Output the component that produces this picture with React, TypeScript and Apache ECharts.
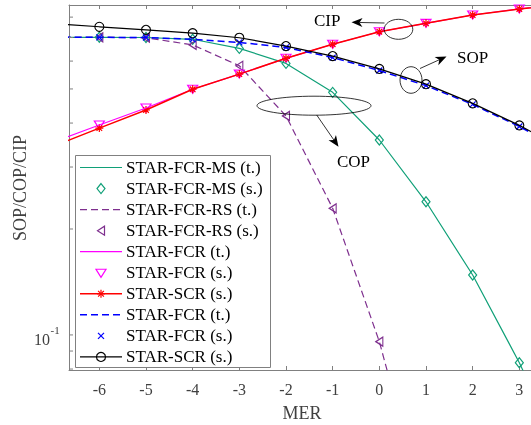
import React, { useEffect, useRef } from "react";
import * as echarts from "echarts";

// ---- data ----
const merTheory = [-7, -6, -5, -4, -3, -2, -1, 0, 1, 2, 3, 4];
const merSim = [-6, -5, -4, -3, -2, -1, 0, 1, 2, 3];

const fcrMsTheory = [0.701, 0.701, 0.7, 0.692, 0.652, 0.591, 0.489, 0.358, 0.239, 0.148, 0.0834, 0.0433];
const fcrMsSim = [0.701, 0.7, 0.692, 0.652, 0.591, 0.489, 0.358, 0.239, 0.148, 0.0834];
const fcrRsTheory = [0.701, 0.701, 0.699, 0.667, 0.582, 0.419, 0.229, 0.0957, 0.031];
const fcrRsSim = [0.701, 0.699, 0.667, 0.582, 0.419, 0.229, 0.0957];
const fcrCipTheory = [0.353, 0.395, 0.4415, 0.499, 0.551, 0.611, 0.67, 0.727, 0.768, 0.811, 0.844, 0.872];
const fcrCipSim = [0.395, 0.4415, 0.499, 0.551, 0.611, 0.67, 0.727, 0.768, 0.811, 0.844];
const scrCipLine = [0.343, 0.387, 0.4357, 0.499, 0.551, 0.611, 0.67, 0.727, 0.768, 0.811, 0.844, 0.872];
const scrCipSim = [0.387, 0.4357, 0.499, 0.551, 0.611, 0.67, 0.727, 0.768, 0.811, 0.844];
const fcrSopTheory = [0.701, 0.701, 0.7, 0.692, 0.678, 0.656, 0.614, 0.564, 0.511, 0.452, 0.391, 0.333];
const fcrSopSim = [0.701, 0.7, 0.692, 0.678, 0.656, 0.614, 0.564, 0.511, 0.452, 0.391];
const scrSopLine = [0.767, 0.751, 0.736, 0.72, 0.699, 0.662, 0.62, 0.57, 0.516, 0.455, 0.394, 0.335];
const scrSopSim = [0.751, 0.736, 0.72, 0.699, 0.662, 0.62, 0.57, 0.516, 0.455, 0.394];

const yTickValues = [0.08, 0.09, 0.1, 0.2, 0.3, 0.4, 0.5, 0.6, 0.7, 0.8];
const legendNames = [
  "STAR-FCR-MS (t.)",
  "STAR-FCR-MS (s.)",
  "STAR-FCR-RS (t.)",
  "STAR-FCR-RS (s.)",
  "STAR-FCR (t.)",
  "STAR-FCR (s.)",
  "STAR-SCR (s.)",
  "STAR-FCR (t.)",
  "STAR-FCR (s.)",
  "STAR-SCR (s.)",
];

const zip = (xs: number[], ys: number[]) => ys.map((y, i) => [xs[i], y]);

const GREEN = "#10a078";
const PURPLE = "#7e2f8e";
const MAGENTA = "#ff00ff";
const RED = "#ff0000";
const BLUE = "#0000ff";
const BLACK = "#000000";
const FONT = '"Liberation Serif", "Times New Roman", serif';
const AXIS_GREY = "#808080";
const LABEL_GREY = "#404040";

const ASTERISK = "path://M5,0L5,10M0,5L10,5M1.5,1.5L8.5,8.5M8.5,1.5L1.5,8.5";
const XMARK = "path://M0,0L10,10M10,0L0,10";

function arrow(x1: number, y1: number, x2: number, y2: number, L = 11, W = 4.5, N = 3) {
  const dx = x2 - x1, dy = y2 - y1;
  const len = Math.hypot(dx, dy);
  const ux = dx / len, uy = dy / len;
  const nx = -uy, ny = ux;
  const bx = x2 - L * ux, by = y2 - L * uy;
  const mx = x2 - (L - N) * ux, my = y2 - (L - N) * uy;
  return [
    { type: "line", z: 100, shape: { x1, y1, x2: mx, y2: my }, style: { stroke: "#000", lineWidth: 0.8 } },
    {
      type: "polygon",
      z: 100,
      shape: { points: [[x2, y2], [bx + W * nx, by + W * ny], [mx, my], [bx - W * nx, by - W * ny]] },
      style: { fill: "#000" },
    },
  ];
}

function legendMarker(kind: string, cx: number, cy: number, color: string): any[] {
  const st = { stroke: color, fill: "none", lineWidth: 1.2 };
  switch (kind) {
    case "diamond":
      return [{ type: "polygon", z: 101, shape: { points: [[cx, cy - 5], [cx + 4, cy], [cx, cy + 5], [cx - 4, cy]] }, style: st }];
    case "ltri":
      return [{ type: "polygon", z: 101, shape: { points: [[cx - 3.5, cy], [cx + 3.5, cy - 4.5], [cx + 3.5, cy + 4.5]] }, style: st }];
    case "dtri":
      return [{ type: "polygon", z: 101, shape: { points: [[cx - 5, cy - 3.5], [cx + 5, cy - 3.5], [cx, cy + 4.5]] }, style: st }];
    case "ast": {
      const r = 4;
      const d = 2.9;
      return [
        { type: "line", z: 101, shape: { x1: cx - r, y1: cy, x2: cx + r, y2: cy }, style: st },
        { type: "line", z: 101, shape: { x1: cx, y1: cy - r, x2: cx, y2: cy + r }, style: st },
        { type: "line", z: 101, shape: { x1: cx - d, y1: cy - d, x2: cx + d, y2: cy + d }, style: st },
        { type: "line", z: 101, shape: { x1: cx - d, y1: cy + d, x2: cx + d, y2: cy - d }, style: st },
      ];
    }
    case "x": {
      const d = 3;
      return [
        { type: "line", z: 101, shape: { x1: cx - d, y1: cy - d, x2: cx + d, y2: cy + d }, style: st },
        { type: "line", z: 101, shape: { x1: cx - d, y1: cy + d, x2: cx + d, y2: cy - d }, style: st },
      ];
    }
    case "circle":
      return [{ type: "circle", z: 101, shape: { cx, cy, r: 4.5 }, style: st }];
  }
  return [];
}

const legendStyles = [
  { line: "solid", color: GREEN, marker: "" },
  { line: "", color: GREEN, marker: "diamond" },
  { line: "dashed", color: PURPLE, marker: "" },
  { line: "", color: PURPLE, marker: "ltri" },
  { line: "solid", color: MAGENTA, marker: "" },
  { line: "", color: MAGENTA, marker: "dtri" },
  { line: "solid", color: RED, marker: "ast" },
  { line: "dashed", color: BLUE, marker: "" },
  { line: "", color: BLUE, marker: "x" },
  { line: "solid", color: BLACK, marker: "circle" },
];

export default function App() {
  const ref = useRef<HTMLDivElement>(null);
  useEffect(() => {
    const chart = echarts.init(ref.current!, null, { renderer: "svg" });
    const xMin = -6.65, xMax = 3.25, yMin = 0.0795, yMax = 0.866;
    const xAxisCommon: any = {
      type: "value",
      min: xMin,
      max: xMax,
      splitNumber: 10,
      splitLine: { show: false },
      axisLine: { show: true, onZero: false, lineStyle: { color: AXIS_GREY, width: 1 } },
      axisTick: { show: true, inside: true, length: 4, lineStyle: { color: AXIS_GREY } },
    };
    const lineS = (name: string, xs: number[], ys: number[], color: string, width: number, type: any) => ({
      type: "line",
      name,
      data: zip(xs, ys),
      symbol: "none",
      showSymbol: false,
      clip: true,
      silent: true,
      lineStyle: { color, width, type },
    });
    const markS = (name: string, xs: number[], ys: number[], symbol: string, size: any, color: string, rotate = 0, bw = 1.2) => ({
      type: "scatter",
      name,
      data: zip(xs, ys),
      symbol,
      symbolSize: size,
      symbolRotate: rotate,
      silent: true,
      itemStyle: { color: "rgba(0,0,0,0)", borderColor: color, borderWidth: bw, opacity: 1 },
    });
    const option: any = {
      animation: false,
      grid: { left: 69, top: 5, right: 0, bottom: 55, containLabel: false, outerBoundsMode: "none" },
      xAxis: [
        {
          ...xAxisCommon,
          position: "bottom",
          axisLabel: {
            show: true,
            color: LABEL_GREY,
            fontFamily: FONT,
            fontSize: 16,
            margin: 11,
            formatter: (v: number) => (Math.abs(v - Math.round(v)) < 1e-6 ? String(Math.round(v) === 0 ? 0 : Math.round(v)) : ""),
          },
        },
        { ...xAxisCommon, position: "top", axisLabel: { show: false } },
      ],
      yAxis: {
        type: "log",
        logBase: 10,
        min: yMin,
        max: yMax,
        position: "left",
        axisLine: { show: true, onZero: false, lineStyle: { color: AXIS_GREY, width: 1 } },
        axisTick: { show: false },
        axisLabel: { show: false },
        splitLine: { show: false },
        minorTick: { show: false },
        minorSplitLine: { show: false },
      },
      series: [
        lineS(legendNames[0], merTheory, fcrMsTheory, GREEN, 1.2, "solid"),
        markS(legendNames[1], merSim, fcrMsSim, "diamond", [8, 10], GREEN),
        lineS(legendNames[2], merTheory, fcrRsTheory, PURPLE, 1.2, [7, 4]),
        markS(legendNames[3], merSim, fcrRsSim, "triangle", [9, 7], PURPLE, 90),
        lineS(legendNames[4], merTheory, fcrCipTheory, MAGENTA, 1.2, "solid"),
        markS(legendNames[5], merSim, fcrCipSim, "triangle", [10, 8], MAGENTA, 180),
        lineS(legendNames[6], merTheory, scrCipLine, RED, 1.5, "solid"),
        markS(legendNames[6] + " marker", merSim, scrCipSim, ASTERISK, 8, RED, 0, 1.2),
        lineS(legendNames[7], merTheory, fcrSopTheory, BLUE, 1.5, [7, 4]),
        markS(legendNames[8], merSim, fcrSopSim, XMARK, 6, BLUE, 0, 1.2),
        lineS(legendNames[9], merTheory, scrSopLine, BLACK, 1.2, "solid"),
        markS(legendNames[9] + " marker", merSim, scrSopSim, "circle", 9, BLACK, 0, 1.1),
      ],
    };
    chart.setOption(option);

    const graphics: any[] = [];
    // y-axis ticks (log minor ticks) through the chart's own scale
    const left = 69;
    yTickValues.forEach((v) => {
      const y = chart.convertToPixel({ yAxisIndex: 0 }, v) as number;
      graphics.push({
        type: "line",
        z: 50,
        shape: { x1: left, y1: y, x2: left + 4, y2: y },
        style: { stroke: AXIS_GREY, lineWidth: 1 },
      });
      if (v === 0.1) {
        graphics.push({
          type: "text",
          z: 50,
          x: 50,
          y: y + 5,
          style: { text: "10", font: `16px ${FONT}`, fill: LABEL_GREY, align: "right", verticalAlign: "middle" },
        });
        graphics.push({
          type: "text",
          z: 50,
          x: 50.5,
          y: y - 5,
          style: { text: "-1", font: `11px ${FONT}`, fill: LABEL_GREY, align: "left", verticalAlign: "middle" },
        });
      }
    });
    // axis titles
    graphics.push({
      type: "text",
      z: 50,
      x: 302,
      y: 413,
      style: { text: "MER", font: `18px ${FONT}`, fill: LABEL_GREY, align: "center", verticalAlign: "middle" },
    });
    graphics.push({
      type: "text",
      z: 50,
      x: 20,
      y: 188,
      rotation: Math.PI / 2,
      style: { text: "SOP/COP/CIP", font: `18px ${FONT}`, fill: LABEL_GREY, align: "center", verticalAlign: "middle" },
    });
    // annotations
    const ell = (cx: number, cy: number, rx: number, ry: number) => ({
      type: "ellipse",
      z: 100,
      shape: { cx, cy, rx, ry },
      style: { stroke: "#000", fill: "none", lineWidth: 0.8 },
    });
    graphics.push(ell(398.5, 29.3, 14.3, 10));
    graphics.push(...arrow(384.5, 23, 351.5, 22.3));
    graphics.push(ell(411, 80, 11, 13.3));
    graphics.push(...arrow(420, 68.5, 446.5, 56.5));
    graphics.push(ell(314, 105.7, 57, 9.5));
    graphics.push(...arrow(316.7, 115, 338.5, 146.7));
    const note = (t: string, x: number, y: number) => ({
      type: "text",
      z: 100,
      x,
      y,
      style: { text: t, font: `17px ${FONT}`, fill: "#000", align: "left", verticalAlign: "middle" },
    });
    graphics.push(note("CIP", 314, 20));
    graphics.push(note("SOP", 457, 57));
    graphics.push(note("COP", 337, 161));

    // legend
    const lx = 75.5, ly = 155.5, lw = 195, lh = 212;
    graphics.push({
      type: "rect",
      z: 99,
      shape: { x: lx, y: ly, width: lw, height: lh },
      style: { fill: "#fff", stroke: AXIS_GREY, lineWidth: 1 },
    });
    legendNames.forEach((name, i) => {
      const cy = 167.5 + i * 21.05;
      const s = legendStyles[i];
      if (s.line) {
        graphics.push({
          type: "line",
          z: 101,
          shape: { x1: 80, y1: cy, x2: 122, y2: cy },
          style: { stroke: s.color, lineWidth: s.color === RED || s.color === BLUE ? 1.5 : 1.2, lineDash: s.line === "dashed" ? [7, 4] : null },
        });
      }
      if (s.marker) graphics.push(...legendMarker(s.marker, 101, cy, s.color));
      graphics.push({
        type: "text",
        z: 101,
        x: 126,
        y: cy,
        style: { text: name, font: `17px ${FONT}`, fill: "#000", align: "left", verticalAlign: "middle" },
      });
    });

    chart.setOption({ graphic: graphics });
    return () => chart.dispose();
  }, []);
  return <div ref={ref} style={{ position: "fixed", left: 0, top: 0, width: 531, height: 425 }} />;
}
